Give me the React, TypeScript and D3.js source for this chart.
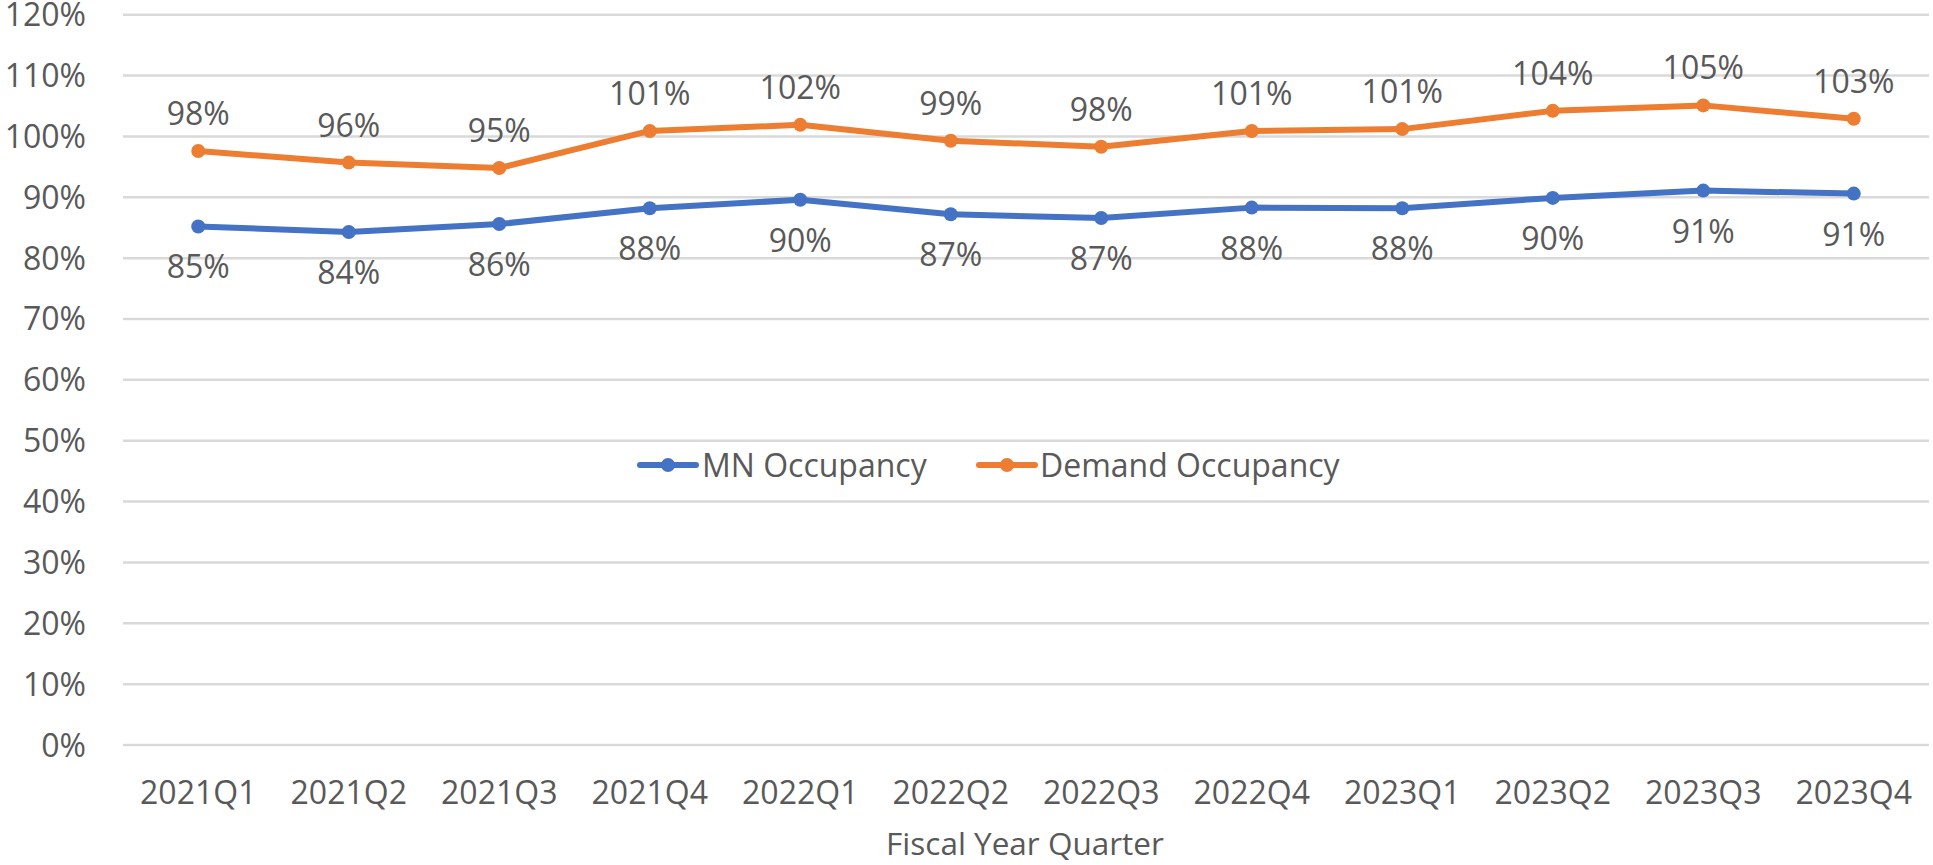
import React, { useEffect, useRef } from "react";
import * as d3 from "d3";

const quarters = [
  "2021Q1", "2021Q2", "2021Q3", "2021Q4",
  "2022Q1", "2022Q2", "2022Q3", "2022Q4",
  "2023Q1", "2023Q2", "2023Q3", "2023Q4"
];
const mnOccupancy = [0.852, 0.843, 0.856, 0.882, 0.896, 0.872, 0.866, 0.883, 0.882, 0.899, 0.911, 0.906];
const demandOccupancy = [0.976, 0.957, 0.948, 1.009, 1.019, 0.993, 0.983, 1.009, 1.012, 1.042, 1.051, 1.029];
const yTicks = [0, 0.1, 0.2, 0.3, 0.4, 0.5, 0.6, 0.7, 0.8, 0.9, 1.0, 1.1, 1.2];

const WIDTH = 1933;
const HEIGHT = 865;
const FONT = "'Open Sans', 'Noto Sans', sans-serif";
const TEXT = "#595959";

const series = [
  { name: "MN Occupancy", values: mnOccupancy, color: "#4472C4", labelPos: "below" },
  { name: "Demand Occupancy", values: demandOccupancy, color: "#ED7D31", labelPos: "above" }
];

const App: React.FC = () => {
  const ref = useRef<SVGSVGElement | null>(null);

  useEffect(() => {
    if (!ref.current) return;
    const svg = d3.select(ref.current);
    svg.selectAll("*").remove();

    const left = 123, right = 1929, top = 14.7, bottom = 745;

    const x = d3.scalePoint<string>()
      .domain(quarters)
      .range([left, right])
      .padding(0.5);

    const y = d3.scaleLinear()
      .domain([0, 1.2])
      .range([bottom, top]);

    const pct = d3.format(".0%");

    // gridlines
    svg.append("g")
      .selectAll("line")
      .data(yTicks)
      .enter()
      .append("line")
      .attr("x1", left)
      .attr("x2", right)
      .attr("y1", d => y(d))
      .attr("y2", d => y(d))
      .attr("stroke", "#d9d9d9")
      .attr("stroke-width", 2.5);

    // y tick labels
    svg.append("g")
      .selectAll("text")
      .data(yTicks)
      .enter()
      .append("text")
      .attr("x", 86)
      .attr("y", d => y(d) + 11.5)
      .attr("text-anchor", "end")
      .attr("font-family", FONT)
      .attr("font-size", 32)
      .attr("fill", TEXT)
      .text(d => pct(d));

    // x tick labels
    svg.append("g")
      .selectAll("text")
      .data(quarters)
      .enter()
      .append("text")
      .attr("x", d => x(d) as number)
      .attr("y", 804)
      .attr("text-anchor", "middle")
      .attr("font-family", FONT)
      .attr("font-size", 32)
      .attr("fill", TEXT)
      .text(d => d);

    // axis title
    svg.append("text")
      .attr("x", 1025)
      .attr("y", 855)
      .attr("text-anchor", "middle")
      .attr("font-family", FONT)
      .attr("font-size", 31.5)
      .attr("fill", TEXT)
      .text("Fiscal Year Quarter");

    const line = d3.line<number>()
      .x((_, i) => x(quarters[i]) as number)
      .y(d => y(d));

    series.forEach(s => {
      const g = svg.append("g");
      g.append("path")
        .datum(s.values)
        .attr("d", line)
        .attr("fill", "none")
        .attr("stroke", s.color)
        .attr("stroke-width", 6)
        .attr("stroke-linejoin", "round")
        .attr("stroke-linecap", "round");

      g.selectAll("circle")
        .data(s.values)
        .enter()
        .append("circle")
        .attr("cx", (_, i) => x(quarters[i]) as number)
        .attr("cy", d => y(d))
        .attr("r", 7)
        .attr("fill", s.color);

      g.selectAll("text")
        .data(s.values)
        .enter()
        .append("text")
        .attr("x", (_, i) => x(quarters[i]) as number)
        .attr("y", d => s.labelPos === "above" ? y(d) - 26 : y(d) + 52)
        .attr("text-anchor", "middle")
        .attr("font-family", FONT)
        .attr("font-size", 32)
        .attr("fill", TEXT)
        .text(d => pct(d));
    });

    // legend
    const legendItems = [
      { s: series[0], x0: 640, tx: 702 },
      { s: series[1], x0: 979, tx: 1040 }
    ];
    const ly = 465;
    legendItems.forEach(({ s, x0, tx }) => {
      const lg = svg.append("g");
      lg.append("line")
        .attr("x1", x0)
        .attr("x2", x0 + 56)
        .attr("y1", ly)
        .attr("y2", ly)
        .attr("stroke", s.color)
        .attr("stroke-width", 6)
        .attr("stroke-linecap", "round");
      lg.append("circle")
        .attr("cx", x0 + 28)
        .attr("cy", ly)
        .attr("r", 7)
        .attr("fill", s.color);
      lg.append("text")
        .attr("x", tx)
        .attr("y", ly + 11.5)
        .attr("font-family", FONT)
        .attr("font-size", 32)
        .attr("fill", TEXT)
        .text(s.name);
    });
  }, []);

  return (
    <svg
      ref={ref}
      width={WIDTH}
      height={HEIGHT}
      style={{ position: "absolute", left: 0, top: 0, background: "#fff" }}
    />
  );
};

export default App;
